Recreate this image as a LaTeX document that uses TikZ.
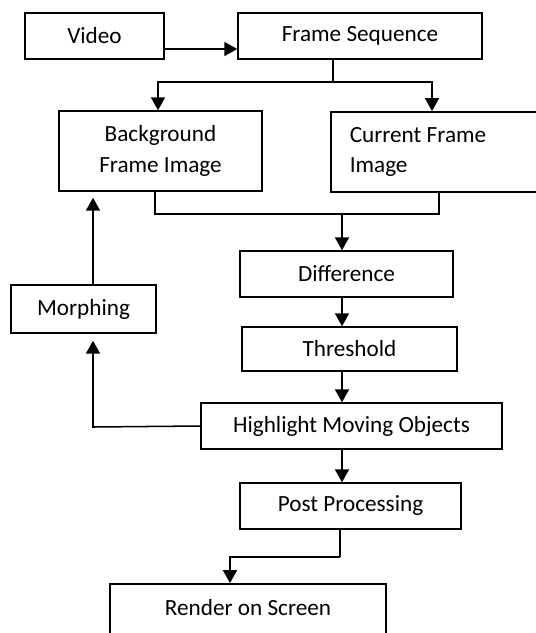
\documentclass[tikz,border=0pt]{standalone}
\usepackage{fontspec}
\setmainfont{Carlito}
\usepackage{tikz}
\usetikzlibrary{arrows.meta,calc,positioning}

\begin{document}
\begin{tikzpicture}[x=0.03cm, y=-0.03cm, line cap=butt, line join=miter,
  >={Triangle[length=11pt,width=12pt]},
  font=\fontsize{19.8}{24}\selectfont,
  stagebox/.style={draw, line width=1.3pt, inner sep=0pt, align=center},
  flow/.style={line width=1.3pt}]
  % one unit = one pixel of the 536x633 frame, y runs downward
  \path[use as bounding box] (0,0) rectangle (536,633);
  \clip (0,0) rectangle (536,633);
  \node[stagebox, minimum width=139*0.03cm, minimum height=46*0.03cm]
    (video) at (94.5,36) {Video};
  \node[stagebox, minimum width=244*0.03cm, minimum height=46*0.03cm]
    (seq) at (360,36) {Frame Sequence};
  \node[stagebox, minimum width=203*0.03cm, minimum height=80*0.03cm]
    (bg) at (160.5,151) {Background\\[2pt]Frame Image};
  \node[stagebox, anchor=north west, align=flush left, minimum width=215*0.03cm,
    minimum height=80*0.03cm, text width=190*0.03cm, inner xsep=19*0.03cm]
    (cur) at (330,111) {Current Frame\\[2pt]Image};
  \node[stagebox, minimum width=213*0.03cm, minimum height=46*0.03cm]
    (diff) at (346.5,274) {Difference};
  \node[stagebox, minimum width=215*0.03cm, minimum height=44*0.03cm]
    (thr) at (349.5,349) {Threshold};
  \node[stagebox, minimum width=301*0.03cm, minimum height=46*0.03cm]
    (hl) at (351.5,426) {Highlight Moving Objects};
  \node[stagebox, minimum width=221*0.03cm, minimum height=46*0.03cm]
    (post) at (350.5,506) {Post Processing};
  % the last box runs past the lower edge of the frame
  \node[stagebox, anchor=north, minimum width=276*0.03cm,
    text height=32*0.03cm, text depth=45*0.03cm]
    (render) at (248,583) {Render on Screen};
  \node[stagebox, minimum width=145*0.03cm, minimum height=48*0.03cm]
    (morph) at (83.5,309) {Morphing};
  % split and join points of the branches
  \coordinate (split) at (333,82);
  \coordinate (join) at (342,214);
  \coordinate (bend) at (340,557);
  \coordinate (back) at (93,427);
  \draw[flow,->] (video.east |- 0,49) -- (seq.west |- 0,49);
  \draw[flow] (seq.south -| split) -- (split);
  \draw[flow,->] (split) -| (bg.north -| 158,0);
  \draw[flow,->] (split) -| (cur.north -| 432,0);
  \draw[flow] (bg.south -| 155,0) |- (join);
  \draw[flow] (cur.south -| 439,0) |- (join);
  \draw[flow,->] (join) -- (diff.north -| join);
  \draw[flow,->] (diff.south -| join) -- (thr.north -| join);
  \draw[flow,->] (thr.south -| join) -- (hl.north -| join);
  \draw[flow,->] (hl.south -| join) -- (post.north -| join);
  \draw[flow] (post.south -| bend) -- (bend);
  \draw[flow,->] (bend) -| (render.north -| 230,0);
  \draw[flow,->,shorten >=7*0.03cm] (hl.west) -- (back) -- (morph.south -| back);
  \draw[flow,->,shorten >=6*0.03cm] (morph.north -| back) -- (bg.south -| back);
\end{tikzpicture}
\end{document}
